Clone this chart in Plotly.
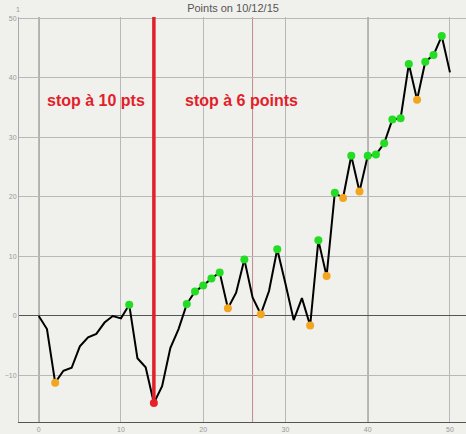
import plotly.graph_objects as go

# points per trade, 10/12/15
x_vals = list(range(51))
y_vals = [0.0, -2.2, -11.2, -9.2, -8.7, -5.1, -3.6, -3.0, -1.1, 0.0,
          -0.4, 1.9, -7.1, -8.6, -14.6, -11.8, -5.4, -2.2, 2.0, 4.1,
          5.1, 6.3, 7.3, 1.3, 3.9, 9.5, 3.1, 0.3, 4.2, 11.2,
          5.4, -0.7, 3.0, -1.6, 12.7, 6.7, 20.7, 19.8, 26.9, 20.9,
          26.9, 27.1, 29.0, 33.0, 33.2, 42.3, 36.3, 42.7, 43.8, 47.0,
          40.9]

green_idx = [11, 18, 19, 20, 21, 22, 25, 29, 34, 36, 38, 40, 41, 42, 43, 44, 45, 47, 48, 49]
orange_idx = [2, 23, 27, 33, 35, 37, 39, 46]
red_idx = [14]

stop_x = 14
mark_x = 26
dark_x = [0, 40]

labels = ["stop à 10 pts", "stop à 6 points"]
label_x = [7.0, 24.7]
label_y = [36.1, 36.1]

bg = "#f0f0ec"
red = "#e3202a"

fig = go.Figure()

shapes = []
for xv in dark_x:
    shapes.append(dict(type="line", xref="x", yref="paper", x0=xv, x1=xv, y0=0, y1=1,
                       line=dict(color="#333", width=1.2), layer="between"))
shapes.append(dict(type="line", xref="x", yref="paper", x0=mark_x, x1=mark_x, y0=0, y1=1,
                   line=dict(color="#c58a8a", width=1), layer="between"))
shapes.append(dict(type="line", xref="x", yref="y", x0=stop_x, x1=stop_x,
                   y0=y_vals[stop_x], y1=51,
                   line=dict(color=red, width=3.5), layer="above"))

fig.add_trace(go.Scatter(x=x_vals, y=y_vals, mode="lines",
                         line=dict(color="black", width=2), hoverinfo="skip"))

for idx, col in [(green_idx, "#22dd22"), (orange_idx, "#f2a51f"), (red_idx, "#e52525")]:
    fig.add_trace(go.Scatter(x=[x_vals[i] for i in idx], y=[y_vals[i] for i in idx],
                             mode="markers", marker=dict(color=col, size=8)))

annotations = []
for t, xa, ya in zip(labels, label_x, label_y):
    annotations.append(dict(text="<b>" + t + "</b>", x=xa, y=ya, xref="x", yref="y",
                            showarrow=False, font=dict(family="Liberation Sans", size=16, color=red)))
annotations.append(dict(text="1", x=-0.011, y=1.031, xref="paper", yref="paper",
                        showarrow=False, font=dict(family="Liberation Sans", size=7, color="#999")))

fig.update_layout(
    width=466, height=434,
    margin=dict(l=19, r=0, t=17, b=12),
    paper_bgcolor=bg, plot_bgcolor=bg,
    showlegend=False,
    title=dict(text="Points on 10/12/15", x=0.5, xanchor="center", y=0.982, yanchor="middle",
               font=dict(family="Liberation Sans", size=11, color="#555")),
    shapes=shapes,
    annotations=annotations,
)

fig.update_xaxes(range=[-2.4, 51.95], tickvals=[0, 10, 20, 30, 40, 50], automargin=False,
                 showgrid=True, gridcolor="#b8b8b8", gridwidth=1, zeroline=False,
                 showline=True, linecolor="#555", linewidth=1.3,
                 tickfont=dict(family="Liberation Sans", size=7, color="#999"), ticklen=0)
fig.update_yaxes(range=[-17.8, 50.2], tickvals=[-10, 0, 10, 20, 30, 40, 50], automargin=False,
                 showgrid=True, gridcolor="#b8b8b8", gridwidth=1,
                 zeroline=True, zerolinecolor="#555", zerolinewidth=1.2,
                 showline=True, linecolor="#aaa", linewidth=1,
                 tickfont=dict(family="Liberation Sans", size=7, color="#999"), ticklen=0)

# drop the browser's default body margin so the figure sits at the page corner
fig.write_html("out.html", config={"displayModeBar": False},
               post_script="document.body.style.margin='0px';")
